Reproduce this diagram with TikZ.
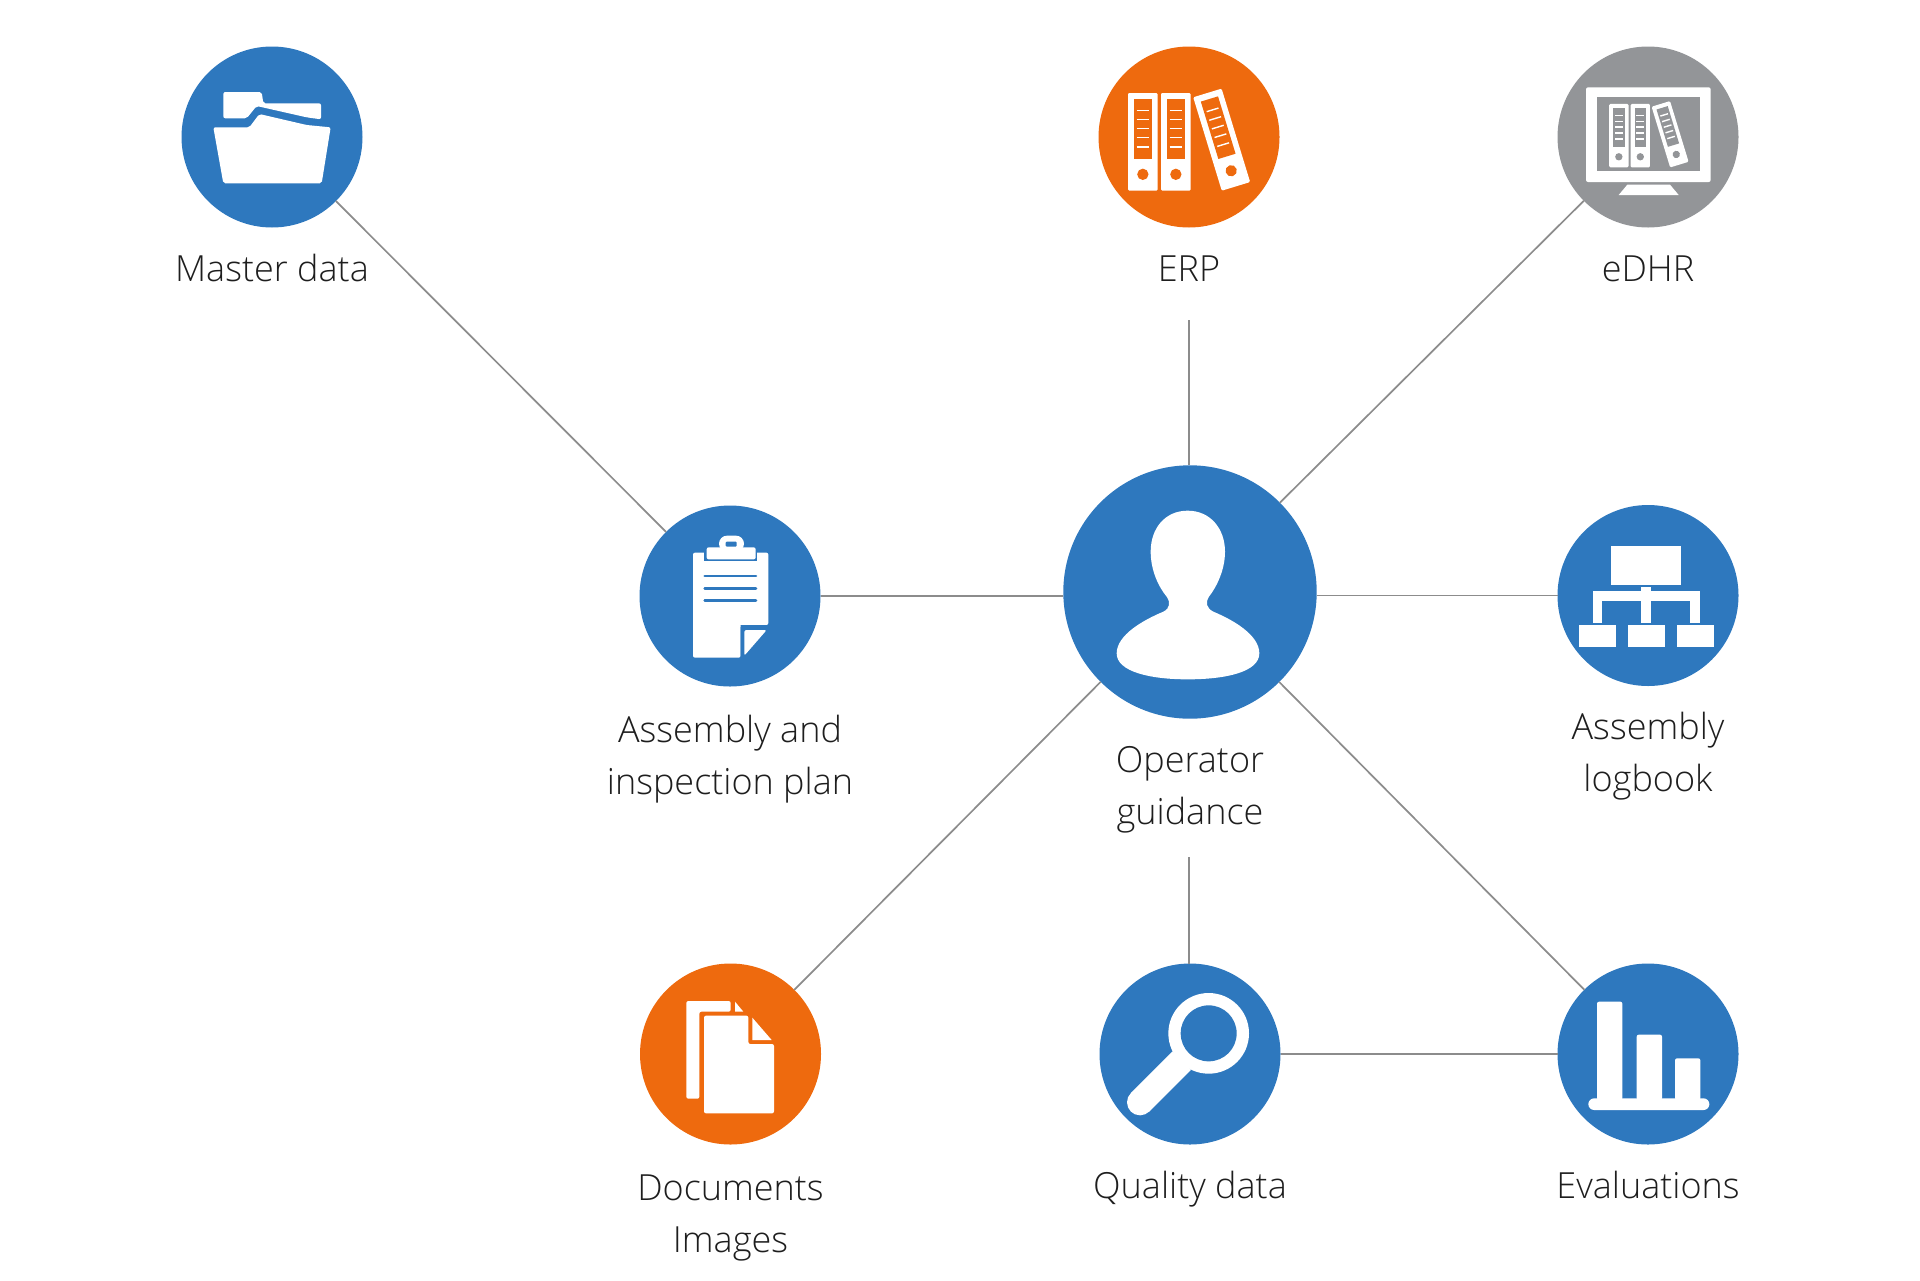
\documentclass[tikz,border=0pt]{standalone}
\usepackage{fontspec}
\setmainfont{Open Sans Light}
\usetikzlibrary{positioning}

\definecolor{diagblue}{HTML}{2E78BE}
\definecolor{diagorange}{HTML}{EE6A0E}
\definecolor{diaggray}{HTML}{939598}
\definecolor{linegray}{HTML}{8C8C8C}
\definecolor{txtgray}{HTML}{1E1E1E}

\tikzset{
  disc/.style={circle,inner sep=0pt,outer sep=0pt,minimum size=90.5pt},
  bigdisc/.style={disc,minimum size=126.7pt},
  captiontxt/.style={align=center,inner sep=0pt,text=txtgray,
    font=\fontsize{18}{26}\selectfont,execute at begin node=\strut},
  conn/.style={draw=linegray,line width=0.85pt},
  icon/.style={fill=white,rounded corners=1pt}
}

% one binder, drawn around its own centre
\newcommand{\bookicon}[1]{
  \fill[white,rounded corners=0.6pt] (-44.5,-146.5) rectangle (44.5,146.5);
  \fill[#1] (-26.5,-127.5) rectangle (27.5,52.5);
  \foreach \sy in {-93.5,-66.5,-39.5,-12.5,15.5}
    \draw[white,line width=0.7pt] (-18.5,\sy) -- (18.5,\sy);
  \fill[#1] (0,97.5) circle[radius=17];
}
\newcommand{\bindersicon}[1]{
  \bookicon{#1}
  \begin{scope}[shift={(99,0)}]\bookicon{#1}\end{scope}
  \begin{scope}[shift={(236.5,-6.5)},rotate=17]\bookicon{#1}\end{scope}
}

\begin{document}
\begin{tikzpicture}[x=0.5pt,y=-0.5pt]
  \useasboundingbox (0,0) rectangle (1920,1280);

  \node (mast) [disc,fill=diagblue]   at (272,137) {};
  \node (erp)  [disc,fill=diagorange] at (1189,137) {};
  \node (edhr) [disc,fill=diaggray]   at (1648,137) {};
  \node (plan) [disc,fill=diagblue]   at (730,596) {};
  \node (oper) [bigdisc,fill=diagblue] at (1190,592) {};
  \node (logb) [disc,fill=diagblue]   at (1648,595.5) {};
  \node (docs) [disc,fill=diagorange] at (730.5,1054) {};
  \node (qual) [disc,fill=diagblue]   at (1190,1054) {};
  \node (eval) [disc,fill=diagblue]   at (1648,1054) {};

  \node (masttxt) [captiontxt,below=8.8pt of mast] {Master data};
  \node (erptxt)  [captiontxt,below=8.8pt of erp]  {ERP};
  \node (edhrtxt) [captiontxt,below=8.8pt of edhr] {eDHR};
  \node (plantxt) [captiontxt,below=14.3pt of plan] {Assembly and\\inspection plan};
  \node (opertxt) [captiontxt,below=13.7pt of oper] {Operator\\guidance};
  \node (logbtxt) [captiontxt,below=13pt of logb] {Assembly\\logbook};
  \node (docstxt) [captiontxt,below=14.9pt of docs] {Documents\\Images};
  \node (qualtxt) [captiontxt,below=8.7pt of qual] {Quality data};
  \node (evaltxt) [captiontxt,below=8.7pt of eval] {Evaluations};

  \coordinate (erpfoot) at (1189,320);
  \coordinate (operfoot) at (1189,857);

  \path[conn] (mast) edge (plan)
  (plan) edge (plan -| oper.west)
  (logb) edge (logb -| oper.east)
  (oper) edge (edhr)
  (oper) edge (docs)
  (oper) edge (eval)
  (qual) edge (eval)
  (erpfoot) edge (erpfoot |- oper.north)
  (operfoot) edge (operfoot |- qual.north);

  % folder
  \begin{scope}[shift={(160,30)},scale=1/3]
    \fill[icon] (190,186) -- (305,186) -- (310,220) -- (483,220) -- (483,268)
      -- (440,262) -- (290,228) -- (260,265) -- (190,265) -- cycle;
    \fill[icon] (160,292) -- (268,292) -- (298,252) -- (440,285) -- (512,292)
      -- (485,460) -- (190,460) -- cycle;
  \end{scope}

  % binders
  \begin{scope}[shift={(1080,30)},scale=1/3]
    \begin{scope}[shift={(188.5,335.5)}]\bindersicon{diagorange}\end{scope}
  \end{scope}

  % monitor
  \begin{scope}[shift={(1540,30)},scale=1/3]
    \fill[icon] (138,172) rectangle (512,456);
    \fill[diaggray] (170,201) rectangle (481,424);
    \fill[white] (262,464) -- (390,464) -- (416,495) -- (236,495) -- cycle;
    \begin{scope}[shift={(236.5,317)},scale=0.65]\bindersicon{diaggray}\end{scope}
  \end{scope}

  % clipboard
  \begin{scope}[shift={(620,490)},scale=1/3]
    \fill[icon] (219,188) -- (445,188) -- (445,405) -- (362,405) -- (362,503)
      -- (219,503) -- cycle;
    \fill[diagblue] (252,180) rectangle (412,214);
    \fill[white,rounded corners=4pt] (297,185) -- (297,137) -- (372,137) -- (372,185) -- cycle;
    \fill[icon] (260,172) rectangle (407,208);
    \fill[diagblue,rounded corners=0.5pt] (317,155) rectangle (350,170);
    \foreach \ly in {258,295,332}
      \draw[diagblue,line width=1.3pt,line cap=round] (254,\ly) -- (408,\ly);
    \fill[diagblue] (362,405) -- (445,405) -- (445,425) -- (375,503) -- (362,503) -- cycle;
    \fill[icon] (373,420) -- (440,420) -- (373,497) -- cycle;
  \end{scope}

  % person
  \begin{scope}[shift={(1050,450)},scale=1/3]
    \fill[white] (413,182) .. controls (480,182) and (525,235) .. (525,305)
      .. controls (525,360) and (500,410) .. (477,440)
      .. controls (465,458) and (470,475) .. (490,485)
      .. controls (550,510) and (628,555) .. (628,610)
      .. controls (628,665) and (530,688) .. (413,688)
      .. controls (300,688) and (200,665) .. (200,610)
      .. controls (200,555) and (280,510) .. (340,485)
      .. controls (360,475) and (362,458) .. (350,440)
      .. controls (325,410) and (302,360) .. (302,305)
      .. controls (302,235) and (345,182) .. (413,182) -- cycle;
  \end{scope}

  % network
  \begin{scope}[shift={(1540,490)},scale=1/3]
    \fill[white] (212,168) rectangle (423,284);
    \fill[white] (304,292) rectangle (334,400);
    \fill[white] (158,302) rectangle (480,332);
    \fill[white] (158,302) rectangle (187,400);
    \fill[white] (451,302) rectangle (480,400);
    \foreach \bx in {117,264,411}
      \fill[white] (\bx,405) rectangle (\bx+110,470);
  \end{scope}

  % pages
  \begin{scope}[shift={(620,950)},scale=1/3]
    \fill[icon] (199,153) -- (332,153) -- (332,185) -- (238,185) -- (238,446)
      -- (199,446) -- cycle;
    \fill[white] (345,155) -- (370,185) -- (345,185) -- cycle;
    \fill[icon] (252,197) -- (385,197) -- (385,282) -- (462,282) -- (462,490)
      -- (252,490) -- cycle;
    \fill[white] (397,203) -- (455,270) -- (397,270) -- cycle;
  \end{scope}

  % magnifier
  \begin{scope}[shift={(1080,950)},scale=1/3]
    \fill[white] (386,250) circle[radius=121];
    \fill[diagblue] (386,250) circle[radius=84];
    \draw[white,line width=13pt] (180,457) -- (305,332);
    \fill[white] (180,457) circle[radius=39];
  \end{scope}

  % bars
  \begin{scope}[shift={(1540,950)},scale=1/3]
    \foreach \bx/\by in {171/155,290/254,405/325}
      \fill[icon] (\bx,\by) rectangle (\bx+76,450);
    \fill[white,rounded corners=2.9pt] (145,445) rectangle (508,480);
  \end{scope}
\end{tikzpicture}
\end{document}
